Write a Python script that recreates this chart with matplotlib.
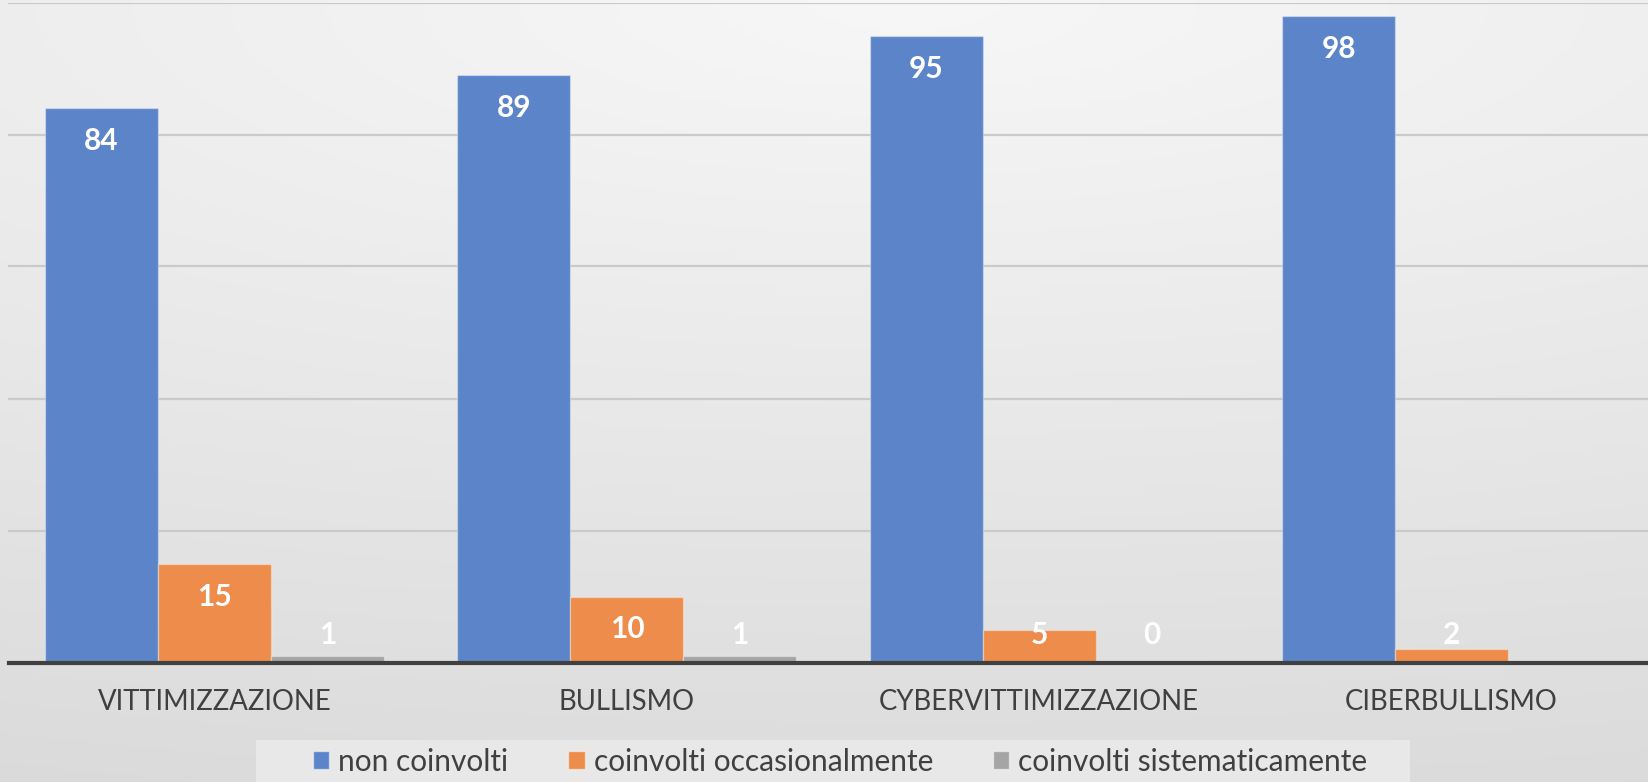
import numpy as np
import matplotlib
matplotlib.use("Agg")
import matplotlib.pyplot as plt
from matplotlib.patches import Rectangle, Patch

plt.rcParams['font.family'] = ['Lato', 'DejaVu Sans']

categories = ["VITTIMIZZAZIONE", "BULLISMO", "CYBERVITTIMIZZAZIONE", "CIBERBULLISMO"]
series_names = ["non coinvolti", "coinvolti occasionalmente", "coinvolti sistematicamente"]
non_coinvolti = [84, 89, 95, 98]
occasionalmente = [15, 10, 5, 2]
sistematicamente = [1, 1, 0, None]   # last value not shown in the chart

colors = ["#5b84c9", "#ed8c4b", "#a5a5a5"]

W, H = 1649, 782
fig = plt.figure(figsize=(W / 100, H / 100), dpi=100)

# background gradient
bg = fig.add_axes([0, 0, 1, 1], zorder=-10)
xs = np.linspace(0, 1, 400)
ys = np.linspace(0, 1, 200)
X, Y = np.meshgrid(xs, ys)
d = np.sqrt(((X - 0.55) / 1.59) ** 2 + ((Y - 1.0) / 1.0) ** 2)
val = (247 - 27 * d) / 255.0
img = np.dstack([val, val, val])
bg.imshow(img, origin="lower", extent=[0, 1, 0, 1], aspect="auto")
bg.set_axis_off()

left = 8.5 / W
width = 4 * 412.3 / W
bottom = (H - 662.5) / H
top = (H - 2.5) / H
ax = fig.add_axes([left, bottom, width, top - bottom])
ax.patch.set_alpha(0)

series = [non_coinvolti, occasionalmente, sistematicamente]
x = np.arange(len(categories))
bw = 0.274
for i, (vals, c) in enumerate(zip(series, colors)):
    v = [0 if s is None else s for s in vals]
    pos = x + (i - 1) * bw
    ax.bar(pos, v, width=bw, color=c, edgecolor=(1, 1, 1, 0.35), linewidth=1.0, zorder=3)
    for p, s in zip(pos, vals):
        if s is None:
            continue
        ax.text(p, max(s - 5.0, 4.2), str(s), ha="center", va="center",
                color="white", fontsize=21.5, fontweight="bold", zorder=4)

ax.set_xlim(-0.5, 3.5)
ax.set_ylim(0, 100)
ax.set_yticks([20, 40, 60, 80, 100])
ax.yaxis.grid(True, color="#cacaca", linewidth=1.6, zorder=0)
ax.tick_params(axis="y", left=False, labelleft=False)
ax.set_xticks(x)
ax.set_xticklabels(categories, fontsize=19.8, color="#404040")
ax.tick_params(axis="x", length=0, pad=19)
for s in ["top", "right", "left"]:
    ax.spines[s].set_visible(False)
ax.spines["bottom"].set_color("#404040")
ax.spines["bottom"].set_linewidth(3.0)
ax.spines["bottom"].set_zorder(5)

# legend box
fig.patches.append(Rectangle((256 / W, 0), (1410 - 256) / W, (H - 740) / H,
                             transform=fig.transFigure, facecolor="#e8e8e8",
                             edgecolor="none", zorder=-5))
handles = [Patch(facecolor=c, edgecolor=(1, 1, 1, 0.5), linewidth=1) for c in colors]
fig.legend(handles, series_names, loc="center", bbox_to_anchor=(840 / W, (H - 762) / H),
           ncol=3, frameon=False, fontsize=21.5, handlelength=0.55, handleheight=0.55,
           handletextpad=0.3, columnspacing=2.0, labelcolor="#404040")

fig.savefig("out.png", dpi=100)
